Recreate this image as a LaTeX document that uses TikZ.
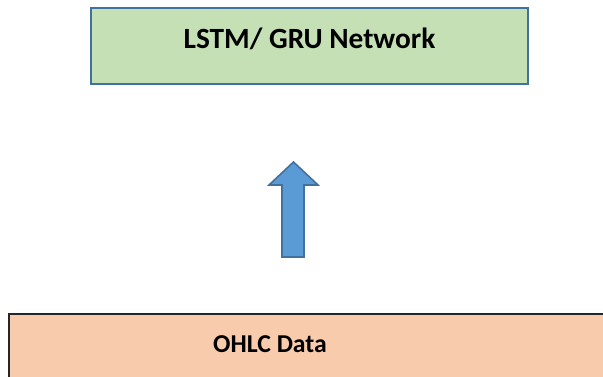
\documentclass[tikz,border=0pt]{standalone}
\usepackage{fontspec}
\setmainfont{Carlito}
\definecolor{netfill}{HTML}{C5E0B4}
\definecolor{netedge}{HTML}{41719C}
\definecolor{arrfill}{HTML}{5B9BD5}
\definecolor{datafill}{HTML}{F8CBAD}
\definecolor{dataedge}{HTML}{262626}
\tikzset{
  netbox/.style={draw=netedge, line width=1.8pt, fill=netfill},
  databox/.style={draw=dataedge, line width=1.2pt, fill=datafill},
  boxlabel/.style={font=\bfseries, text=black, inner sep=0pt},
  blockarrow/.style={draw=netedge, line width=1.2pt, fill=arrfill, line join=miter}
}
\begin{document}
\begin{tikzpicture}[x=0.75pt, y=-0.75pt]
  \useasboundingbox (0,0) rectangle (603,376);
  \clip (0,0) rectangle (603,376);
  % network box
  \draw[netbox] (91,8) rectangle (528,84);
  \node[boxlabel, anchor=base, font=\fontsize{22}{26}\selectfont\bfseries] (net) at (309.5,48) {LSTM/ GRU Network};
  % input data box, running off the right and bottom edges
  \draw[databox] (9,314) rectangle (620,395);
  \node[boxlabel, anchor=base, font=\fontsize{19.3}{23}\selectfont\bfseries] (data) at (270,352) {OHLC Data};
  % upward block arrow
  \draw[blockarrow] (282,257) -- (282,185) -- (269,185) -- (293.5,162)
    -- (318,185) -- (304,185) -- (304,257) -- cycle;
\end{tikzpicture}
\end{document}
